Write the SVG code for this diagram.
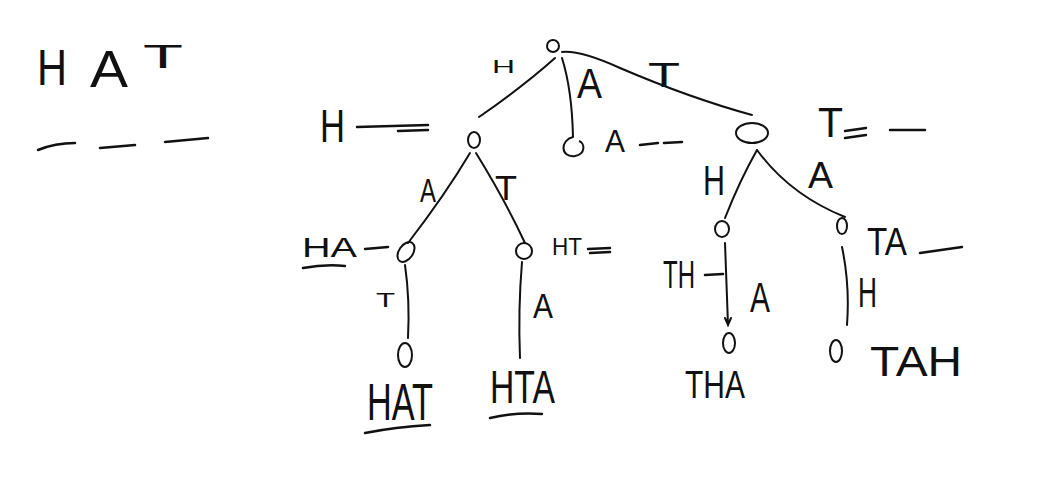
<svg xmlns="http://www.w3.org/2000/svg" width="1046" height="498" viewBox="0 0 1046 498">
<style>
.t{font-family:"Liberation Sans",Arial,sans-serif;fill:#111}
.e{stroke:#111;stroke-width:2;fill:none;stroke-linecap:round}
.n{stroke:#111;stroke-width:2;fill:none}
.d{stroke:#111;stroke-width:2.5;fill:none;stroke-linecap:round}
</style>
<rect width="1046" height="498" fill="#fff"/>
<g id="word">
<text class="t" x="37" y="85" font-size="50" textLength="30" lengthAdjust="spacingAndGlyphs">H</text>
<text class="t" x="90" y="87" font-size="52" textLength="38" lengthAdjust="spacingAndGlyphs">A</text>
<text class="t" x="143" y="68" font-size="34" textLength="40" lengthAdjust="spacingAndGlyphs">T</text>
<path class="d" d="M38,150 Q55,143 75,143 M100,148 L135,145 M165,142 L208,138"/>
</g>
<g id="connectors">
<path class="e" d="M555,58 Q525,85 479,117"/>
<path class="e" d="M562,58 Q572,90 573,137"/>
<path class="e" d="M562,52 Q580,50 620,68 Q690,98 752,115"/>
<path class="e" d="M470,153 Q445,195 408,243"/>
<path class="e" d="M476,153 Q505,200 525,243"/>
<path class="e" d="M405,265 Q410,300 408,338"/>
<path class="e" d="M522,262 Q518,310 520,358"/>
<path class="e" d="M757,150 Q740,180 725,218"/>
<path class="e" d="M757,150 Q790,195 845,217"/>
<path class="e" d="M725,243 L728,325 M725,318 L728,325 L731,318"/>
<path class="e" d="M842,247 Q850,285 847,325"/>
</g>
<g id="edge-labels">
<text class="t" x="492" y="73" font-size="18" textLength="23" lengthAdjust="spacingAndGlyphs">H</text>
<text class="t" x="577" y="98" font-size="42" textLength="25" lengthAdjust="spacingAndGlyphs">A</text>
<text class="t" x="648" y="87" font-size="35" textLength="32" lengthAdjust="spacingAndGlyphs">T</text>
<text class="t" x="420" y="202" font-size="34" textLength="16" lengthAdjust="spacingAndGlyphs">A</text>
<text class="t" x="495" y="200" font-size="35" textLength="22" lengthAdjust="spacingAndGlyphs">T</text>
<text class="t" x="376" y="307" font-size="20" textLength="19" lengthAdjust="spacingAndGlyphs">T</text>
<text class="t" x="533" y="318" font-size="35" textLength="20" lengthAdjust="spacingAndGlyphs">A</text>
<text class="t" x="703" y="195" font-size="42" textLength="22" lengthAdjust="spacingAndGlyphs">H</text>
<text class="t" x="808" y="188" font-size="36" textLength="25" lengthAdjust="spacingAndGlyphs">A</text>
<text class="t" x="750" y="312" font-size="42" textLength="20" lengthAdjust="spacingAndGlyphs">A</text>
<text class="t" x="858" y="307" font-size="42" textLength="19" lengthAdjust="spacingAndGlyphs">H</text>
</g>
<g id="root">
<ellipse class="n" cx="553" cy="46" rx="6" ry="6"/>
</g>
<g id="node-H">
<ellipse class="n" cx="474" cy="140" rx="6" ry="8"/>
<text class="t" x="320" y="142" font-size="46" textLength="25" lengthAdjust="spacingAndGlyphs">H</text>
<path class="d" d="M357,127 L428,125 M398,131 L428,130"/>
</g>
<g id="node-A">
<path class="n" d="M573,137 C560,140 560,158 575,156 C586,154 585,143 579,141"/>
<text class="t" x="605" y="152" font-size="31" textLength="20" lengthAdjust="spacingAndGlyphs">A</text>
<path class="d" d="M640,145 L658,143 M664,143 L682,142"/>
</g>
<g id="node-T">
<ellipse class="n" cx="752" cy="133" rx="16" ry="10"/>
<text class="t" x="818" y="137" font-size="42" textLength="25" lengthAdjust="spacingAndGlyphs">T</text>
<path class="d" d="M845,131 L866,128 M845,138 L866,135 M890,130 L925,130"/>
</g>
<g id="node-HA">
<ellipse class="n" cx="406" cy="252" rx="7" ry="11" transform="rotate(35 406 252)"/>
<text class="t" x="302" y="257" font-size="28" textLength="55" lengthAdjust="spacingAndGlyphs">HA</text>
<path class="d" d="M365,249 L388,247 M303,268 Q325,264 345,266"/>
</g>
<g id="node-HT">
<ellipse class="n" cx="524" cy="251" rx="8" ry="8"/>
<text class="t" x="552" y="255" font-size="24" textLength="30" lengthAdjust="spacingAndGlyphs">HT</text>
<path class="d" d="M588,249 L610,248 M590,253 L610,252"/>
</g>
<g id="node-HAT">
<ellipse class="n" cx="405" cy="355" rx="7" ry="12"/>
<text class="t" x="367" y="420" font-size="52" textLength="66" lengthAdjust="spacingAndGlyphs">HAT</text>
<path class="d" d="M365,433 Q395,427 430,425"/>
</g>
<g id="node-HTA">
<text class="t" x="490" y="403" font-size="46" textLength="65" lengthAdjust="spacingAndGlyphs">HTA</text>
<path class="d" d="M490,418 Q515,412 542,414"/>
</g>
<g id="node-TH">
<ellipse class="n" cx="722" cy="229" rx="7" ry="8"/>
<text class="t" x="663" y="288" font-size="39" textLength="32" lengthAdjust="spacingAndGlyphs">TH</text>
<path class="d" d="M705,275 L723,274"/>
</g>
<g id="node-TA">
<ellipse class="n" cx="842" cy="226" rx="5" ry="8"/>
<text class="t" x="867" y="255" font-size="39" textLength="40" lengthAdjust="spacingAndGlyphs">TA</text>
<path class="d" d="M920,253 L962,247"/>
</g>
<g id="node-THA">
<ellipse class="n" cx="729" cy="343" rx="6" ry="10"/>
<text class="t" x="685" y="398" font-size="39" textLength="60" lengthAdjust="spacingAndGlyphs">THA</text>
</g>
<g id="node-TAH">
<ellipse class="n" cx="836" cy="351" rx="6" ry="11"/>
<text class="t" x="870" y="376" font-size="42" textLength="92" lengthAdjust="spacingAndGlyphs">TAH</text>
</g>
</svg>
